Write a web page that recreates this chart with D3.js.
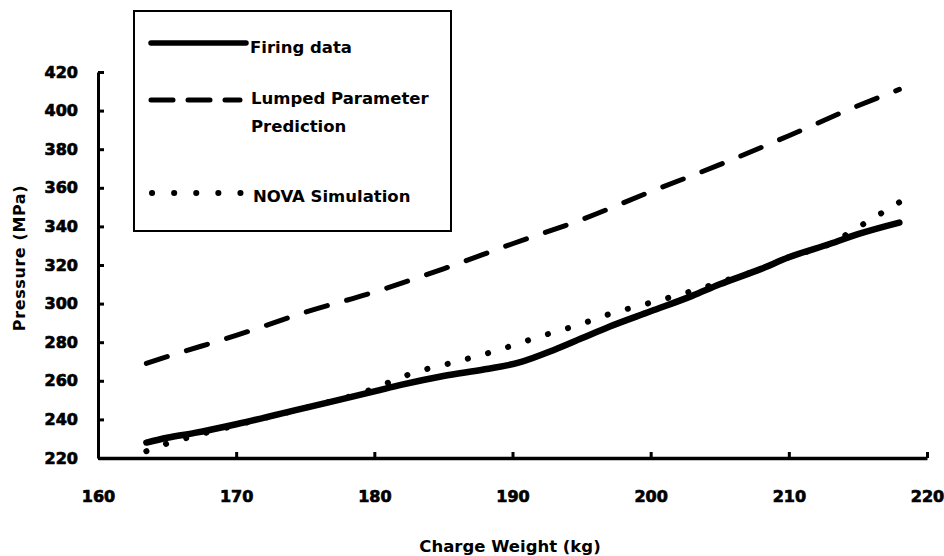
<!DOCTYPE html>
<html>
<head>
<meta charset="utf-8">
<script src="https://cdn.jsdelivr.net/npm/d3@7"></script>
<style>
  body { margin: 0; background: #fff; }
  svg { font-family: "DejaVu Sans", "Liberation Sans", sans-serif; font-weight: bold; }
  .axis path, .axis line { stroke: #000; }
</style>
</head>
<body>
<div class="pressure-chart"></div>
<script>
// data
var firingWeight = [163.5, 165, 167, 170, 175, 180, 182, 185, 188, 190.5, 193, 195, 197, 200, 203, 205, 208, 210, 213, 215, 218];
var firingPressure = [228, 230.5, 233, 237.5, 246, 254.5, 258, 262.5, 266, 269.5, 276, 282, 288, 296, 304, 310, 318, 324, 331, 336, 342];

var lumpedWeight = [163.5, 165, 170, 175, 180, 185, 190, 195, 200, 205, 210, 215, 218];
var lumpedPressure = [269, 272.5, 283.5, 295.5, 306, 318, 331, 343.5, 358, 372, 387, 402.5, 411];

var novaWeight = [163.5, 165, 167, 170, 175, 180, 182, 184, 186, 189, 192, 195, 197, 200, 203, 205, 208, 210, 213, 215, 216.5, 218];
var novaPressure = [223.5, 227.5, 231.5, 237, 246, 256, 262, 266.5, 270, 276, 283, 289.5, 294.5, 300.5, 306.5, 311, 318, 324, 331, 339.5, 346, 352.5];

var xTicks = [160, 170, 180, 190, 200, 210, 220];
var yTicks = [220, 240, 260, 280, 300, 320, 340, 360, 380, 400, 420];

function drawPressureChart() {

    var width = 944, height = 556;

    var x = d3.scaleLinear().domain([160, 220]).range([98, 927]);
    var y = d3.scaleLinear().domain([220, 420]).range([458, 72]);

    var svg = d3.select(".pressure-chart").append("svg")
        .attr("width", width)
        .attr("height", height);

    function pairs(xs, ys) {
        return xs.map(function(d, i) { return {w: d, p: ys[i]}; });
    }

    var valueline = d3.line()
        .curve(d3.curveMonotoneX)
        .x(function(d) { return x(d.w); })
        .y(function(d) { return y(d.p); });

    function styleAxis(g) {
        g.attr("font-family", "DejaVu Sans, sans-serif")
            .attr("font-size", 16)
            .attr("font-weight", "bold");
        g.selectAll(".tick text")
            .attr("fill", "#000")
            .attr("stroke", "#000")
            .attr("stroke-width", 0.7);
        g.selectAll(".tick line").attr("stroke-width", 3);
    }

    // x axis
    var xAxis = svg.append("g")
        .attr("class", "axis")
        .attr("transform", "translate(0," + y(220) + ")")
        .call(d3.axisBottom(x).tickValues(xTicks).tickSize(-6).tickSizeOuter(0).tickPadding(33))
        .call(styleAxis);
    xAxis.select(".domain").attr("stroke-width", 3.5);

    // y axis
    var yAxis = svg.append("g")
        .attr("class", "axis")
        .attr("transform", "translate(" + x(160) + ",0)")
        .call(d3.axisLeft(y).tickValues(yTicks).tickSize(-6).tickSizeOuter(0).tickPadding(20))
        .call(styleAxis);
    yAxis.select(".domain").attr("stroke-width", 3);

    // axis labels
    svg.append("text")
        .attr("x", 510)
        .attr("y", 552)
        .style("text-anchor", "middle")
        .style("font-size", "16.5px")
        .text("Charge Weight (kg)");
    svg.append("text")
        .attr("transform", "rotate(-90)")
        .attr("x", -258)
        .attr("y", 25)
        .style("text-anchor", "middle")
        .style("font-size", "16px")
        .style("letter-spacing", "0.6px")
        .text("Pressure (MPa)");

    // the lines
    svg.append("path")
        .datum(pairs(lumpedWeight, lumpedPressure))
        .attr("fill", "none")
        .attr("stroke", "#000")
        .attr("stroke-width", 5)
        .attr("stroke-linecap", "round")
        .attr("stroke-dasharray", "22,20")
        .attr("d", valueline);

    var novaLine = svg.append("path")
        .datum(pairs(novaWeight, novaPressure))
        .attr("fill", "none")
        .attr("stroke", "#000")
        .attr("stroke-width", 6)
        .attr("stroke-linecap", "round")
        .attr("d", valueline);
    // space the dots so one sits near each end
    var novaLen = novaLine.node().getTotalLength() - 0.5;
    var gap = novaLen / Math.round(novaLen / 21);
    novaLine.attr("stroke-dasharray", "0.1," + (gap - 0.1));

    svg.append("path")
        .datum(pairs(firingWeight, firingPressure))
        .attr("fill", "none")
        .attr("stroke", "#000")
        .attr("stroke-width", 6.5)
        .attr("stroke-linecap", "round")
        .attr("d", valueline);

    // legend
    var legend = svg.append("g").attr("class", "legend");
    legend.append("rect")
        .attr("x", 134)
        .attr("y", 11)
        .attr("width", 317)
        .attr("height", 220)
        .attr("fill", "#fff")
        .attr("stroke", "#000")
        .attr("stroke-width", 2);

    legend.append("line")
        .attr("x1", 151).attr("x2", 246)
        .attr("y1", 43).attr("y2", 43)
        .attr("stroke", "#000").attr("stroke-width", 5.5).attr("stroke-linecap", "round");
    legend.append("line")
        .attr("x1", 151).attr("x2", 240)
        .attr("y1", 100).attr("y2", 100)
        .attr("stroke", "#000").attr("stroke-width", 5).attr("stroke-linecap", "round")
        .attr("stroke-dasharray", "22,15");
    legend.append("line")
        .attr("x1", 152).attr("x2", 242)
        .attr("y1", 193).attr("y2", 193)
        .attr("stroke", "#000").attr("stroke-width", 6).attr("stroke-linecap", "round")
        .attr("stroke-dasharray", "0.1,22");

    var legendText = [
        {t: "Firing data", x: 250, y: 53},
        {t: "Lumped Parameter", x: 251, y: 104},
        {t: "Prediction", x: 251, y: 132},
        {t: "NOVA Simulation", x: 253, y: 202}
    ];
    legend.selectAll(".legend-text")
        .data(legendText)
        .enter().append("text")
        .attr("class", "legend-text")
        .attr("x", function(d) { return d.x; })
        .attr("y", function(d) { return d.y; })
        .style("font-size", "16.5px")
        .text(function(d) { return d.t; });
}

drawPressureChart();
</script>
</body>
</html>
